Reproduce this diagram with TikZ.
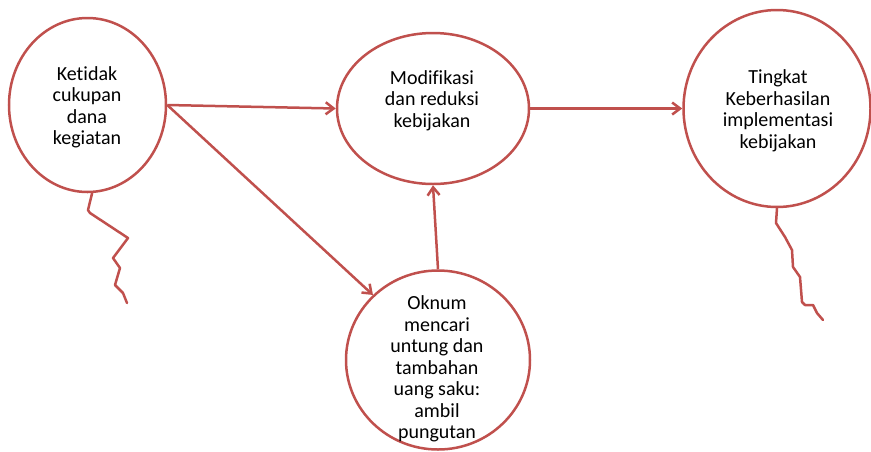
\documentclass[tikz,border=0pt]{standalone}
\usepackage{fontspec}
\setmainfont{Carlito}[Ligatures=NoCommon]
\usetikzlibrary{arrows.meta,shapes.geometric}
\definecolor{bubblered}{HTML}{C0504D}
\begin{document}
\begin{tikzpicture}[x=1pt,y=-1pt,
  bubble/.style={draw=bubblered, line width=2.5pt, ellipse, inner sep=0pt, fill=white},
  caption/.style={align=center, font=\fontsize{20}{21.5}\selectfont, text=black, inner sep=0pt},
  link/.style={draw=bubblered, line width=2.5pt, -{Straight Barb[length=8pt,width=12pt]}},
  tail/.style={draw=bubblered, line width=2.5pt, line join=round, line cap=round}]
\useasboundingbox (0,0) rectangle (871,451);

% the four ellipses
\node[bubble, minimum width=157pt, minimum height=174pt] (e1) at (87.5,105) {};
\node[bubble, minimum width=192pt, minimum height=151pt] (e2) at (433,108.5) {};
\node[bubble, minimum width=187pt, minimum height=197pt] (e3) at (777,108.5) {};
\node[bubble, minimum width=184pt, minimum height=179pt] (e4) at (438,360) {};

% their texts
\node[caption] (t1) at (87,107.5) {Ketidak\\cukupan\\dana\\kegiatan};
\node[caption] (t2) at (432,100.5) {Modifikasi\\dan reduksi\\kebijakan};
\node[caption] (t3) at (778,111) {Tingkat\\Keberhasilan\\implementasi\\kebijakan};
\node[caption] (t4) at (437,369) {Oknum\\mencari\\untung dan\\tambahan\\uang saku:\\ambil\\pungutan};

% arrows between the ellipses
\draw[link] (e1.east) -- (e2.west);
\draw[link] (e1.east) -- (e4.135);
\draw[link] (e2.east) -- (e3.west);
\draw[link] (e4.north) -- (e2.south);

% loose wavy strings below two of the ellipses
\draw[tail] (e1.-87) -- (88,210) -- (90,213) -- (128,238) -- (113,258) -- (120,268)
  -- (115,285) -- (123,293) -- (127,303);
\draw[tail] (e3.south) -- (776,223) -- (785,237) -- (792,250) -- (793,267) -- (800,277)
  -- (802,302) -- (805,305) -- (813,305) -- (817,313) -- (823,320);
\end{tikzpicture}
\end{document}
